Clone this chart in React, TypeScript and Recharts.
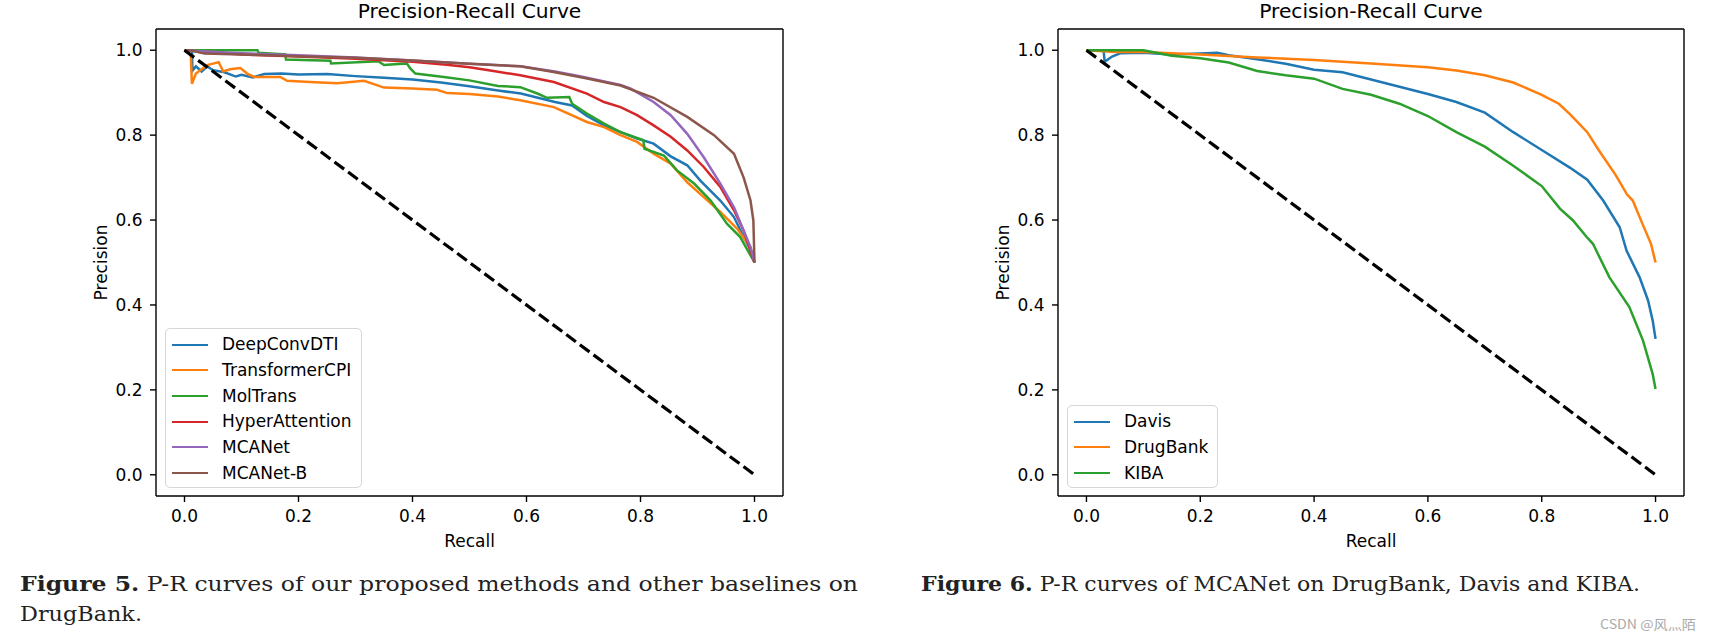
import React from "react";
import { Legend, Line, LineChart, ReferenceLine, XAxis, YAxis } from "recharts";

type Pt = [number, number];

const recallTicks = [0, 0.2, 0.4, 0.6, 0.8, 1.0];
const precisionTicks = [0, 0.2, 0.4, 0.6, 0.8, 1.0];

// figure 5: baselines on DrugBank
const baselineNames = ["DeepConvDTI", "TransformerCPI", "MolTrans", "HyperAttention", "MCANet", "MCANet-B"];

const deepConvDTI: Pt[] = [
  [0, 1], [0.013, 1], [0.014, 0.952], [0.02, 0.962], [0.03, 0.95], [0.04, 0.962], [0.05, 0.953],
  [0.07, 0.948], [0.09, 0.938], [0.1, 0.942], [0.12, 0.936], [0.14, 0.944], [0.17, 0.945], [0.2, 0.943],
  [0.25, 0.944], [0.3, 0.939], [0.35, 0.935], [0.4, 0.931], [0.45, 0.924], [0.5, 0.915], [0.55, 0.905],
  [0.59, 0.898], [0.65, 0.878], [0.68, 0.87], [0.706, 0.845], [0.736, 0.823], [0.765, 0.807],
  [0.794, 0.792], [0.823, 0.78], [0.853, 0.75], [0.882, 0.729], [0.905, 0.693], [0.94, 0.646],
  [0.964, 0.607], [0.981, 0.56], [0.993, 0.53], [1, 0.5],
];

const transformerCPI: Pt[] = [
  [0, 1], [0.011, 0.99], [0.013, 0.921], [0.02, 0.945], [0.04, 0.965], [0.06, 0.972], [0.068, 0.95],
  [0.08, 0.955], [0.098, 0.958], [0.11, 0.945], [0.122, 0.937], [0.168, 0.937], [0.18, 0.928],
  [0.22, 0.925], [0.268, 0.922], [0.315, 0.928], [0.35, 0.912], [0.4, 0.91], [0.443, 0.907],
  [0.461, 0.899], [0.5, 0.897], [0.55, 0.891], [0.589, 0.882], [0.648, 0.866], [0.706, 0.831],
  [0.736, 0.819], [0.765, 0.8], [0.794, 0.784], [0.823, 0.756], [0.853, 0.733], [0.882, 0.689],
  [0.911, 0.654], [0.94, 0.619], [0.97, 0.579], [0.993, 0.536], [1, 0.5],
];

const molTrans: Pt[] = [
  [0, 1], [0.128, 1], [0.13, 0.994], [0.177, 0.99], [0.178, 0.978], [0.256, 0.975], [0.257, 0.969],
  [0.34, 0.974], [0.35, 0.965], [0.39, 0.969], [0.396, 0.957], [0.405, 0.945], [0.455, 0.937],
  [0.5, 0.929], [0.55, 0.916], [0.589, 0.913], [0.619, 0.898], [0.636, 0.888], [0.675, 0.89],
  [0.68, 0.874], [0.706, 0.851], [0.736, 0.827], [0.765, 0.807], [0.805, 0.788], [0.807, 0.768],
  [0.841, 0.752], [0.864, 0.717], [0.894, 0.686], [0.923, 0.646], [0.952, 0.591], [0.975, 0.56],
  [1, 0.5],
];

const hyperAttention: Pt[] = [
  [0, 1], [0.05, 0.995], [0.1, 0.99], [0.2, 0.985], [0.3, 0.98], [0.4, 0.973], [0.46, 0.966],
  [0.5, 0.96], [0.542, 0.951], [0.589, 0.941], [0.648, 0.925], [0.706, 0.898], [0.736, 0.878],
  [0.765, 0.866], [0.794, 0.847], [0.823, 0.823], [0.853, 0.796], [0.882, 0.764], [0.911, 0.725],
  [0.94, 0.678], [0.964, 0.623], [0.981, 0.575], [1, 0.5],
];

const mcaNet: Pt[] = [
  [0, 1], [0.02, 0.998], [0.1, 0.993], [0.2, 0.988], [0.3, 0.983], [0.4, 0.976], [0.5, 0.968],
  [0.589, 0.962], [0.65, 0.95], [0.7, 0.937], [0.765, 0.918], [0.782, 0.91], [0.823, 0.878],
  [0.853, 0.847], [0.882, 0.803], [0.911, 0.748], [0.94, 0.686], [0.964, 0.63], [0.981, 0.575],
  [0.993, 0.536], [1, 0.5],
];

const mcaNetB: Pt[] = [
  [0, 1], [0.01, 1], [0.035, 0.992], [0.1, 0.99], [0.2, 0.986], [0.3, 0.982], [0.4, 0.976],
  [0.5, 0.968], [0.589, 0.962], [0.65, 0.948], [0.7, 0.935], [0.765, 0.917], [0.823, 0.888],
  [0.882, 0.843], [0.929, 0.8], [0.964, 0.756], [0.981, 0.7], [0.993, 0.646], [0.998, 0.599],
  [1, 0.5],
];

// figure 6: MCANet on three datasets
const datasetNames = ["Davis", "DrugBank", "KIBA"];

const davis: Pt[] = [
  [0, 1], [0.03, 1], [0.032, 0.973], [0.045, 0.985], [0.06, 0.993], [0.1, 0.994], [0.15, 0.99],
  [0.2, 0.992], [0.23, 0.994], [0.25, 0.988], [0.3, 0.979], [0.35, 0.968], [0.4, 0.954],
  [0.45, 0.948], [0.5, 0.931], [0.55, 0.914], [0.6, 0.897], [0.65, 0.878], [0.7, 0.853],
  [0.75, 0.807], [0.8, 0.765], [0.85, 0.723], [0.88, 0.695], [0.908, 0.646], [0.937, 0.583],
  [0.949, 0.528], [0.972, 0.465], [0.987, 0.41], [0.995, 0.363], [1, 0.32],
];

const drugBank: Pt[] = [
  [0, 1], [0.05, 0.996], [0.1, 0.996], [0.2, 0.99], [0.3, 0.983], [0.4, 0.977], [0.5, 0.969],
  [0.6, 0.96], [0.65, 0.952], [0.7, 0.941], [0.75, 0.924], [0.8, 0.895], [0.83, 0.874],
  [0.85, 0.849], [0.88, 0.807], [0.9, 0.765], [0.93, 0.706], [0.95, 0.66], [0.96, 0.646],
  [0.977, 0.591], [0.992, 0.544], [1, 0.5],
];

const kiba: Pt[] = [
  [0, 1], [0.1, 1], [0.15, 0.987], [0.2, 0.981], [0.25, 0.971], [0.3, 0.951], [0.35, 0.941],
  [0.4, 0.933], [0.45, 0.909], [0.5, 0.895], [0.55, 0.874], [0.6, 0.845], [0.65, 0.807],
  [0.7, 0.773], [0.75, 0.728], [0.8, 0.68], [0.832, 0.627], [0.855, 0.599], [0.879, 0.56],
  [0.89, 0.544], [0.919, 0.465], [0.954, 0.395], [0.978, 0.316], [0.995, 0.237], [1, 0.202],
];

const chanceLine: Pt[] = [[0, 1], [1, 0]];

const tab10 = ["#1f77b4", "#ff7f0e", "#2ca02c", "#d62728", "#9467bd", "#8c564b"];

const FONT = "'DejaVu Sans', sans-serif";
const SERIF = "'DejaVu Serif', serif";
const CHART_W = 857;
const CHART_H = 560;
const PLOT_TOP = 29;
const PLOT_BOTTOM = 496;
const ROW_H = 25.7;
const DOMAIN: [number, number] = [-0.05, 1.05];

const toRows = (pts: Pt[]) => pts.map(([x, y]) => ({ x, y }));
const fmt = (v: number) => v.toFixed(1);

type ChartProps = {
  offsetX: number;
  plotLeft: number;
  plotRight: number;
  legendWidth: number;
  names: string[];
  series: Pt[][];
};

function PRChart({ offsetX, plotLeft, plotRight, legendWidth, names, series }: ChartProps) {
  const yAxisW = plotLeft - offsetX;
  const marginRight = offsetX + CHART_W - plotRight;
  const cx = (plotLeft + plotRight) / 2 - offsetX;
  const cy = (PLOT_TOP + PLOT_BOTTOM) / 2;
  const legendH = names.length * ROW_H + 6;
  const legendTop = PLOT_BOTTOM - 8 - legendH;

  const renderLegend = () => (
    <div
      style={{
        boxSizing: "border-box",
        width: "100%",
        height: "100%",
        padding: "3px 0",
        background: "rgba(255,255,255,0.8)",
        border: "1.4px solid #d6d6d6",
        borderRadius: 5,
      }}
    >
      {names.map((n, i) => (
        <div key={n} style={{ display: "flex", alignItems: "center", height: ROW_H }}>
          <span
            style={{
              display: "inline-block",
              width: 36,
              marginLeft: 6,
              marginRight: 14,
              borderTop: `2.5px solid ${tab10[i]}`,
            }}
          />
          <span style={{ fontFamily: FONT, fontSize: 17, color: "#000", lineHeight: 1 }}>{n}</span>
        </div>
      ))}
    </div>
  );

  const axisStyle = { stroke: "#000", strokeWidth: 1.4 };
  const tickStyle = { fill: "#000", fontSize: 17, fontFamily: FONT };

  return (
    <div style={{ position: "absolute", left: offsetX, top: 0 }}>
      <LineChart
        width={CHART_W}
        height={CHART_H}
        margin={{ top: PLOT_TOP, right: marginRight, bottom: 0, left: 0 }}
      >
        <XAxis
          dataKey="x"
          type="number"
          domain={DOMAIN}
          ticks={recallTicks}
          allowDataOverflow
          height={CHART_H - PLOT_BOTTOM}
          tickFormatter={fmt}
          tickSize={6}
          tickMargin={7.5}
          tick={tickStyle}
          axisLine={axisStyle}
          tickLine={axisStyle}
          label={{
            content: () => (
              <text x={cx} y={547} textAnchor="middle" fontFamily={FONT} fontSize={17} fill="#000">
                Recall
              </text>
            ),
          }}
        />
        <YAxis
          type="number"
          domain={DOMAIN}
          ticks={precisionTicks}
          allowDataOverflow
          width={yAxisW}
          tickFormatter={fmt}
          tickSize={6}
          tickMargin={7.5}
          tick={tickStyle}
          axisLine={axisStyle}
          tickLine={axisStyle}
          label={{
            content: () => (
              <text
                x={yAxisW - 49.5}
                y={cy}
                textAnchor="middle"
                fontFamily={FONT}
                fontSize={17}
                fill="#000"
                transform={`rotate(-90 ${yAxisW - 49.5} ${cy})`}
              >
                Precision
              </text>
            ),
          }}
        />
        {/* top and right spines */}
        <ReferenceLine
          y={DOMAIN[1]}
          stroke="#000"
          strokeWidth={1.4}
          label={{
            content: () => (
              <text x={cx} y={18} textAnchor="middle" fontFamily={FONT} fontSize={20.2} fill="#000">
                Precision-Recall Curve
              </text>
            ),
          }}
        />
        <ReferenceLine x={DOMAIN[1]} stroke="#000" strokeWidth={1.4} />
        <Legend
          layout="vertical"
          align="center"
          verticalAlign="middle"
          content={renderLegend}
          wrapperStyle={{ left: yAxisW + 9, top: legendTop, width: legendWidth, height: legendH }}
        />
        {names.map((n, i) => (
          <Line
            key={n}
            name={n}
            data={toRows(series[i])}
            dataKey="y"
            type="linear"
            stroke={tab10[i]}
            strokeWidth={2.5}
            dot={false}
            activeDot={false}
            isAnimationActive={false}
          />
        ))}
        <Line
          name="chance"
          legendType="none"
          data={toRows(chanceLine)}
          dataKey="y"
          type="linear"
          stroke="#000"
          strokeWidth={3.2}
          strokeDasharray="12 5"
          dot={false}
          activeDot={false}
          isAnimationActive={false}
        />
      </LineChart>
    </div>
  );
}

export default function App() {
  return (
    <div
      style={{
        position: "absolute",
        left: 0,
        top: 0,
        width: 1714,
        height: 640,
        background: "#fff",
        overflow: "hidden",
      }}
    >
      <svg width={1714} height={640} style={{ position: "absolute", left: 0, top: 0 }}>
        <text x={20} y={591} fontFamily={SERIF} fontSize={21} fill="#222" textLength={838} lengthAdjust="spacingAndGlyphs">
          <tspan fontWeight="bold">Figure 5.</tspan>
          {" P-R curves of our proposed methods and other baselines on"}
        </text>
        <text x={20} y={621} fontFamily={SERIF} fontSize={21} fill="#222" textLength={122} lengthAdjust="spacingAndGlyphs">
          DrugBank.
        </text>
        <text x={921} y={591} fontFamily={SERIF} fontSize={21} fill="#222" textLength={719} lengthAdjust="spacingAndGlyphs">
          <tspan fontWeight="bold">Figure 6.</tspan>
          {" P-R curves of MCANet on DrugBank, Davis and KIBA."}
        </text>
        <text x={1600} y={629} fontFamily="'Noto Sans CJK SC', sans-serif" fontSize={13} fill="#aaa" textLength={96} lengthAdjust="spacingAndGlyphs">
          CSDN @风灬陌
        </text>
      </svg>
      <PRChart
        offsetX={0}
        plotLeft={156}
        plotRight={783}
        legendWidth={197}
        names={baselineNames}
        series={[deepConvDTI, transformerCPI, molTrans, hyperAttention, mcaNet, mcaNetB]}
      />
      <PRChart
        offsetX={857}
        plotLeft={1058}
        plotRight={1684}
        legendWidth={151}
        names={datasetNames}
        series={[davis, drugBank, kiba]}
      />
    </div>
  );
}
